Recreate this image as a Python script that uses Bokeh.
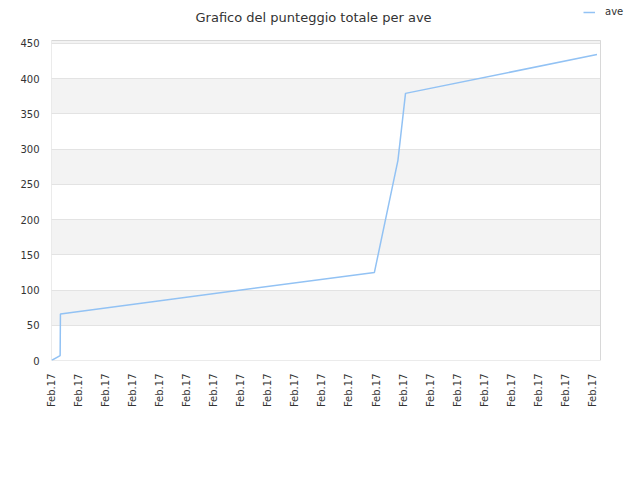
import math
from bokeh.plotting import figure
from bokeh.models import Range1d, FixedTicker, Legend, LegendItem, ColumnDataSource, Label
from bokeh.embed import file_html
from bokeh.resources import INLINE

# data (x in tick-interval units)
time_idx = [0.0, 0.32, 0.33, 11.94, 12.81, 13.09, 20.17]
score = [0, 7, 66, 125, 284, 379, 434]
tick_pos = list(range(21))
tick_labels = ["Feb.17"] * 21
y_ticks = [0, 50, 100, 150, 200, 250, 300, 350, 400, 450]
title_text = "Grafico del punteggio totale per ave"
series_name = "ave"
line_color = "#92c2f4"

# plotting-area extent (data units) and the extra room for title/legend
x_end, y_end = 20.3, 454
area_w, area_h = 549, 320
frame_w, frame_h = 589, 360

src = ColumnDataSource(dict(x=time_idx, y=score))

p = figure(width=640, height=480, output_backend="svg", toolbar_location=None,
           x_range=Range1d(0, x_end * frame_w / area_w),
           y_range=Range1d(0, y_end * frame_h / area_h),
           frame_width=frame_w, frame_height=frame_h,
           min_border_left=51, min_border_right=0, min_border_top=0, min_border_bottom=120)

p.outline_line_color = None
p.background_fill_color = "white"
p.border_fill_color = "white"

p.xgrid.grid_line_color = None
p.ygrid.grid_line_color = "#e3e3e3"
p.ygrid.band_fill_color = "#f3f3f3"
p.ygrid.band_fill_alpha = 1.0
# extra grid stop at the top of the plotting area keeps the band parity right
p.ygrid.ticker = FixedTicker(ticks=y_ticks + [y_end])
p.ygrid.cross_bounds = (0, x_end)

for ax in (p.xaxis[0], p.yaxis[0]):
    ax.axis_line_color = None
    ax.major_tick_line_color = None
    ax.minor_tick_line_color = None
    ax.major_tick_out = 0
    ax.major_tick_in = 0
    ax.minor_tick_out = 0
    ax.minor_tick_in = 0
    ax.major_label_text_font = "DejaVu Sans"
    ax.major_label_text_font_size = "10px"
    ax.major_label_text_color = "#333333"

p.xaxis.ticker = FixedTicker(ticks=tick_pos)
p.xaxis.major_label_overrides = {t: l for t, l in zip(tick_pos, tick_labels)}
p.xaxis.major_label_orientation = math.pi / 2
p.xaxis.major_label_standoff = 13
p.yaxis.ticker = FixedTicker(ticks=y_ticks)
p.yaxis.major_label_standoff = 12

# border of the plotting area
p.quad(left=[0], right=[x_end], bottom=[0], top=[y_end],
       fill_color=None, line_color="#d8d8d8", line_width=1)

r = p.line("x", "y", source=src, line_color=line_color, line_width=1.5)

p.add_layout(Label(x=144, y=342.7, x_units="screen", y_units="screen", text=title_text,
                   text_font="DejaVu Sans", text_font_size="13px", text_color="#333333",
                   text_baseline="alphabetic", text_align="left"))

legend = Legend(items=[LegendItem(label=series_name, renderers=[r])],
                location=(532, 343), padding=0, margin=0, spacing=0,
                glyph_width=12, glyph_height=10, label_height=10,
                label_standoff=10, label_text_font="DejaVu Sans",
                label_text_font_size="10px", label_text_color="#333333",
                border_line_color=None, background_fill_alpha=0)
p.add_layout(legend, "center")

open("out.html", "w").write(file_html(p, INLINE))
